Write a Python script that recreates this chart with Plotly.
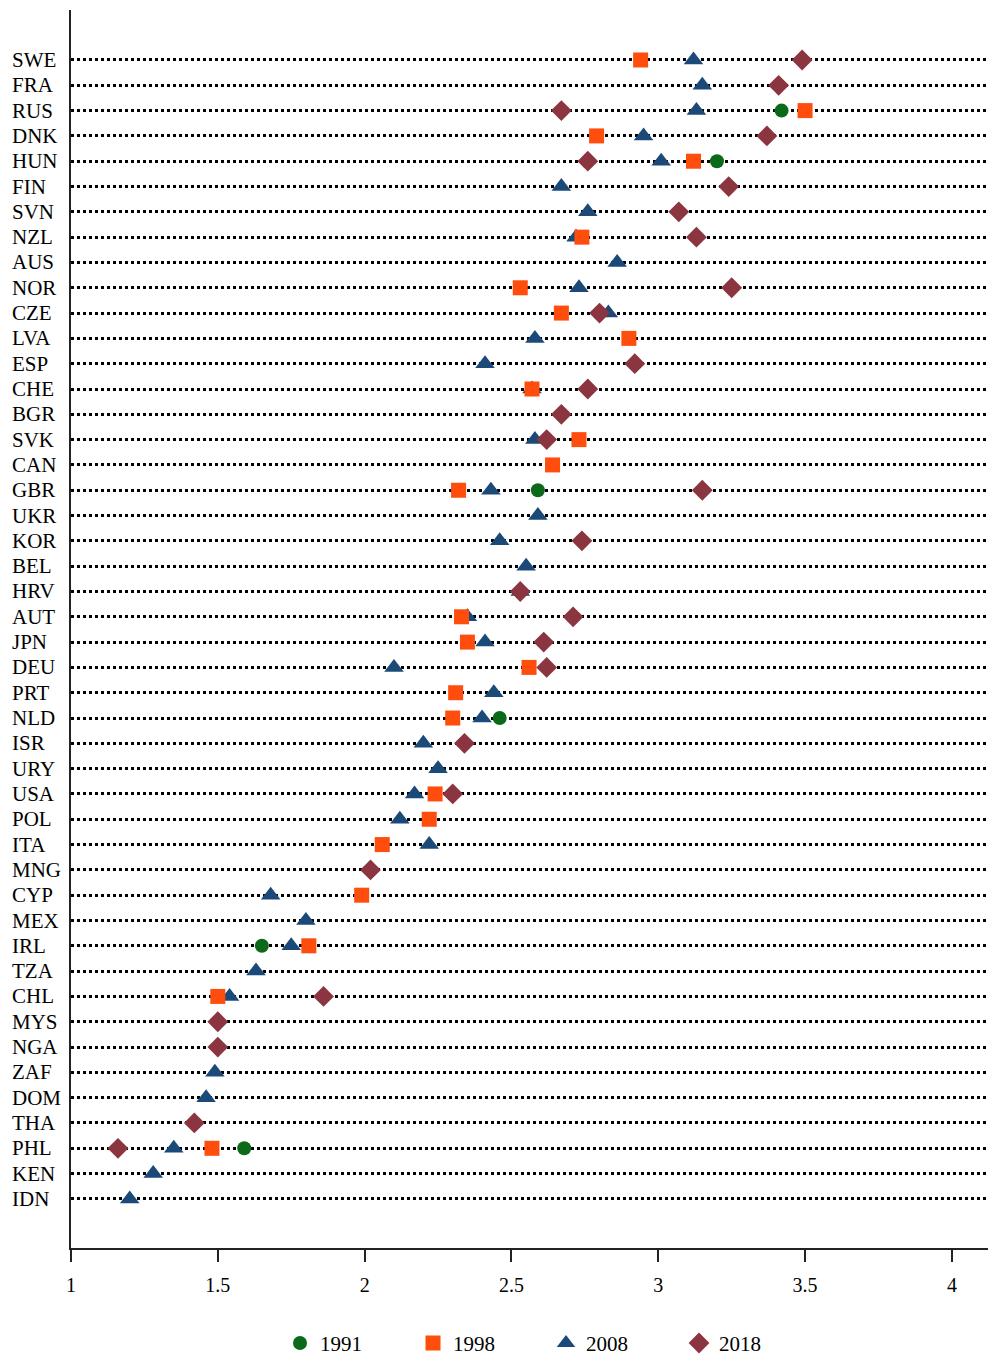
import plotly.graph_objects as go

# Countries, top to bottom
countries = ["SWE", "FRA", "RUS", "DNK", "HUN", "FIN", "SVN", "NZL", "AUS", "NOR",
             "CZE", "LVA", "ESP", "CHE", "BGR", "SVK", "CAN", "GBR", "UKR", "KOR",
             "BEL", "HRV", "AUT", "JPN", "DEU", "PRT", "NLD", "ISR", "URY", "USA",
             "POL", "ITA", "MNG", "CYP", "MEX", "IRL", "TZA", "CHL", "MYS", "NGA",
             "ZAF", "DOM", "THA", "PHL", "KEN", "IDN"]

v1991 = {"RUS": 3.42, "HUN": 3.20, "GBR": 2.59, "NLD": 2.46, "IRL": 1.65, "PHL": 1.59}

v1998 = {"SWE": 2.94, "RUS": 3.50, "DNK": 2.79, "HUN": 3.12, "NZL": 2.74, "NOR": 2.53,
         "CZE": 2.67, "LVA": 2.90, "CHE": 2.57, "SVK": 2.73, "CAN": 2.64, "GBR": 2.32,
         "AUT": 2.33, "JPN": 2.35, "DEU": 2.56, "PRT": 2.31, "NLD": 2.30, "USA": 2.24,
         "POL": 2.22, "ITA": 2.06, "CYP": 1.99, "IRL": 1.81, "CHL": 1.50, "PHL": 1.48}

v2008 = {"SWE": 3.12, "FRA": 3.15, "RUS": 3.13, "DNK": 2.95, "HUN": 3.01, "FIN": 2.67,
         "SVN": 2.76, "NZL": 2.72, "AUS": 2.86, "NOR": 2.73, "CZE": 2.83, "LVA": 2.58,
         "ESP": 2.41, "CHE": 2.57, "SVK": 2.58, "GBR": 2.43, "UKR": 2.59, "KOR": 2.46,
         "BEL": 2.55, "HRV": 2.53, "AUT": 2.35, "JPN": 2.41, "DEU": 2.10, "PRT": 2.44,
         "NLD": 2.40, "ISR": 2.20, "URY": 2.25, "USA": 2.17, "POL": 2.12, "ITA": 2.22,
         "CYP": 1.68, "MEX": 1.80, "IRL": 1.75, "TZA": 1.63, "CHL": 1.54, "ZAF": 1.49,
         "DOM": 1.46, "PHL": 1.35, "KEN": 1.28, "IDN": 1.20}

v2018 = {"SWE": 3.49, "FRA": 3.41, "RUS": 2.67, "DNK": 3.37, "HUN": 2.76, "FIN": 3.24,
         "SVN": 3.07, "NZL": 3.13, "NOR": 3.25, "CZE": 2.80, "ESP": 2.92, "CHE": 2.76,
         "BGR": 2.67, "SVK": 2.62, "GBR": 3.15, "KOR": 2.74, "HRV": 2.53, "AUT": 2.71,
         "JPN": 2.61, "DEU": 2.62, "ISR": 2.34, "USA": 2.30, "MNG": 2.02, "CHL": 1.86,
         "MYS": 1.50, "NGA": 1.50, "THA": 1.42, "PHL": 1.16}

x_ticks = [1, 1.5, 2, 2.5, 3, 3.5, 4]

row = {c: i for i, c in enumerate(countries)}
FONT = "Liberation Serif, Times New Roman, serif"

series = [
    # (name, values, symbol, colour, size, legend rank)
    ("1991", v1991, "circle", "#0b6a18", 14, 1),
    ("2008", v2008, "triangle-up", "#1c4a78", 17, 3),
    ("1998", v1998, "square", "#ff4d0d", 15, 2),
    ("2018", v2018, "diamond", "#8b3540", 16, 4),
]

fig = go.Figure()
for name, vals, sym, col, size, rank in series:
    fig.add_trace(go.Scatter(
        x=list(vals.values()),
        y=[row[c] for c in vals],
        mode="markers",
        name=name,
        legendrank=rank,
        marker=dict(symbol=sym, color=col, size=size, line=dict(width=0)),
    ))

# Country labels, left-aligned in the left margin
for c in countries:
    fig.add_annotation(x=-0.0665, xref="paper", xanchor="left",
                       y=row[c], yref="y", yanchor="middle",
                       text=c, showarrow=False,
                       font=dict(family=FONT, size=21, color="black"))

n = len(countries)
fig.update_layout(
    width=988, height=1357,
    margin=dict(l=71, r=0, t=10, b=109, autoexpand=False),
    paper_bgcolor="white", plot_bgcolor="white",
    font=dict(family=FONT, size=20, color="black"),
    showlegend=True,
    legend=dict(orientation="h", x=0.518, xanchor="center", y=-0.077, yanchor="middle",
                font=dict(family=FONT, size=21, color="black"),
                entrywidth=88, itemsizing="trace"),
    xaxis=dict(range=[1, 4.123], tickvals=x_ticks, ticktext=[f"{t:g}" for t in x_ticks],
               showline=True, linecolor="#222", linewidth=2, mirror=False,
               ticks="outside", ticklen=12, tickwidth=2, tickcolor="#222",
               showgrid=False, zeroline=False, ticklabelstandoff=6,
               tickfont=dict(family=FONT, size=20, color="black")),
    yaxis=dict(range=[n - 1 + 1.94, -1.975], tickvals=list(range(n)),
               showticklabels=False,
               showline=True, linecolor="#222", linewidth=2,
               ticks="", showgrid=True, gridcolor="black", gridwidth=2.5, griddash="dot",
               zeroline=False),
)

fig.write_html("out.html")
